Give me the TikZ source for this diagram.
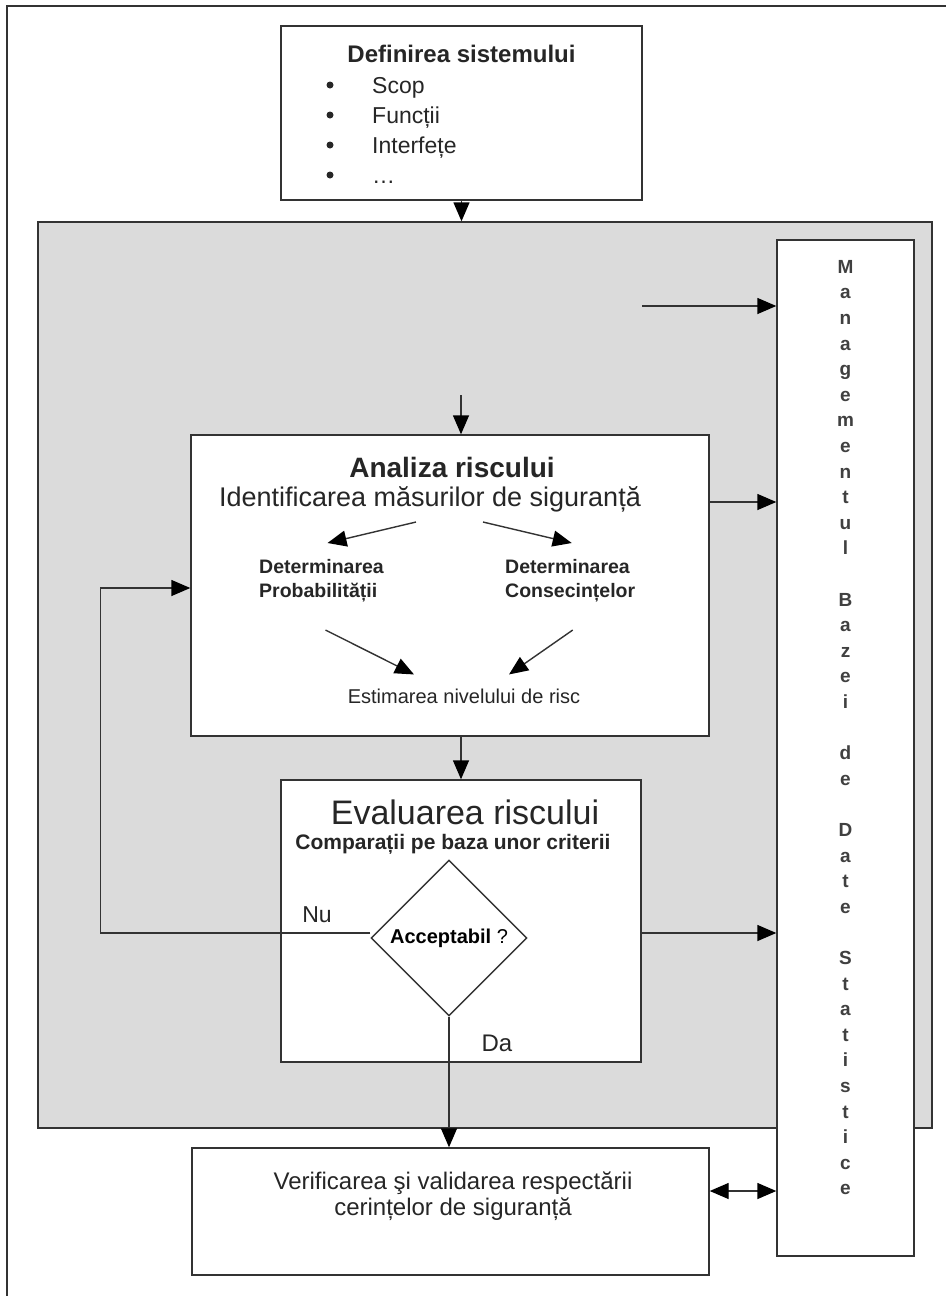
\documentclass[tikz,border=0pt]{standalone}
\usepackage{fontspec}
\setmainfont{Liberation Sans}
\usepackage{tikz}
\usetikzlibrary{positioning, shapes.geometric, arrows.meta}
\newcommand{\fsz}[2]{\fontsize{#1}{#2}\selectfont}

\begin{document}
\begin{tikzpicture}[
        x=1pt, y=-1pt,
        line/.style={draw=black!80, line width=1.4pt},
        arr/.style={line, -{Triangle[length=19pt,width=16pt,color=black]}},
        dbl/.style={line, {Triangle[length=19pt,width=16pt,color=black]}-{Triangle[length=19pt,width=16pt,color=black]}},
        box/.style={line, fill=white, inner sep=0pt},
        txt/.style={inner sep=0pt, text=black!85}
      ]

      \useasboundingbox[fill=white] (0,0) rectangle (946,1296);
      \draw[line] (7,1296) -- (7,6) -- (946,6);

      \node (frame) [line, fill=black!14, inner sep=0pt, minimum width=894pt, minimum height=906pt] at (485,675) {};
      \node (db) [box, minimum width=137pt, minimum height=1016pt] at (845.5,748) {};
      \node (dbtxt) [txt, anchor=north, align=center, text=black!75, font=\bfseries\fsz{19}{25.6}] at (845.5,260)
        {M\\a\\n\\a\\g\\e\\m\\e\\n\\t\\u\\l\\[25.6pt]B\\a\\z\\e\\i\\[25.6pt]d\\e\\[25.6pt]D\\a\\t\\e\\[25.6pt]S\\t\\a\\t\\i\\s\\t\\i\\c\\e};

      \node (def) [box, minimum width=361pt, minimum height=174pt] at (461.5,113) {};
      \node (deftitle) [txt, font=\bfseries\fsz{24}{29}] at (461.5,54) {Definirea sistemului};
      \foreach \item [count=\i] in {Scop, Funcții, Interfețe, …} {
        \node (dot\i) [circle, fill=black!85, inner sep=0pt, minimum size=7pt] at (330,55+30*\i) {};
        \node (item\i) [txt, anchor=base west, font=\fsz{23}{28}] at (372,63+30*\i) {\item};
      }
      \draw[arr] (def.south) -- (def.south |- frame.north);

      \node (ana) [box, minimum width=518pt, minimum height=301pt] at (450,585.5) {};
      \node (anatitle) [txt, font=\bfseries\fsz{28}{34}] at (452,467) {Analiza riscului};
      \node (anasub) [txt, font=\fsz{27}{32}] at (430,499) {Identificarea măsurilor de siguranță};
      \node (prob) [txt, anchor=north west, align=left, font=\bfseries\fsz{19.5}{24}] at (259,559) {Determinarea\\Probabilității};
      \node (cons) [txt, anchor=north west, align=left, font=\bfseries\fsz{19.5}{24}] at (505,559) {Determinarea\\Consecințelor};
      \node (est) [txt, font=\fsz{20}{24}] at (464,696) {Estimarea nivelului de risc};
      \draw[arr] ([shift={(-14,10)}]anasub.south) -- ([shift={(6,-16)}]prob.north);
      \draw[arr] ([shift={(53,10)}]anasub.south) -- ([shift={(1.5,-16)}]cons.north);
      \draw[arr] ([shift={(4,28)}]prob.south) -- ([shift={(-50,-14)}]est.north);
      \draw[arr] ([shift={(2.5,28)}]cons.south) -- ([shift={(45,-14)}]est.north);

      \coordinate (into) at (461,395);
      \draw[arr] (into) -- (into |- ana.north);
      \coordinate (feed) at (642,306);
      \draw[arr] (feed) -- (feed -| db.west);
      \draw[arr] ([yshift=83.5pt]ana.east) coordinate (anaout) -- (anaout -| db.west);

      \node (eva) [box, minimum width=360pt, minimum height=282pt] at (461,921) {};
      \node (evatitle) [txt, font=\fsz{34}{40}] at (465,812) {Evaluarea riscului};
      \node (evasub) [txt, font=\bfseries\fsz{21}{25}] at (453,844) {Comparații pe baza unor criterii};
      \node (dia) [diamond, line, fill=white, inner sep=0pt, minimum width=156pt, minimum height=156pt, font=\fsz{20}{24}] at (449,938) {\textbf{Acceptabil} ?};
      \node (nu) [txt, font=\fsz{23}{28}] at (317,915) {Nu};
      \node (da) [txt, font=\fsz{24}{29}] at (497,1043) {Da};
      \draw[arr] (eva.north |- ana.south) -- (eva.north);
      \draw[arr] ([yshift=5pt]dia.west) -- ++(-270,0) |- ([yshift=-2.5pt]ana.west);
      \draw[arr] ([yshift=5pt]eva.east |- dia.west) -- ([yshift=5pt]dia.west -| db.west);

      \node (ver) [box, minimum width=517pt, minimum height=127pt] at (450.5,1211.5) {};
      \node (vertxt) [txt, align=center, font=\fsz{24}{26}] at (453,1196) {Verificarea şi validarea respectării\\cerințelor de siguranță};
      \draw[arr] (dia.south) -- (dia.south |- ver.north);
      \draw[dbl] ([yshift=20.5pt]ver.east) coordinate (verout) -- (verout -| db.west);
      \end{tikzpicture}
\end{document}
